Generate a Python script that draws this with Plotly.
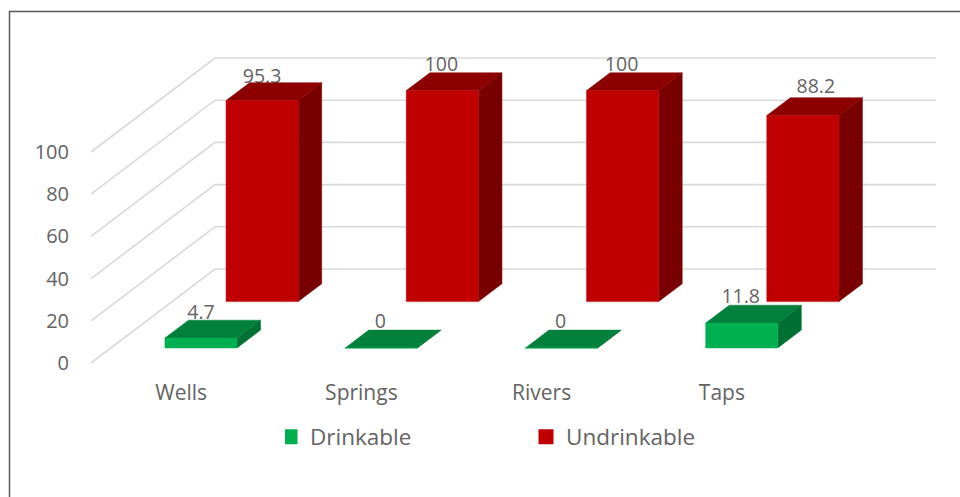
import plotly.graph_objects as go

# ---- data ----
categories = ["Wells", "Springs", "Rivers", "Taps"]
drinkable = [4.7, 0, 0, 11.8]
undrinkable = [95.3, 100, 100, 88.2]
y_ticks = [0, 20, 40, 60, 80, 100]

# ---- chart geometry (oblique 3D projection) ----
W, H = 960, 497
ML, MT, MB = 70, 20, 119
ORIGIN_PX, ORIGIN_PY = 91.0, 363.0    # front-left floor corner
BAND_PX, UNIT_PX = 180.25, 2.11       # pixels per category, per value unit
DEPTH_PX, DEPTH_PY = 124.0, 94.0      # pixel shift of full chart depth
DX, DY = DEPTH_PX / BAND_PX, DEPTH_PY / UNIT_PX
BAR_LO, BAR_HI = 0.30, 0.70           # bar extent inside its band
BAR_DEPTH = 0.19                      # bar depth as share of chart depth
D_GREEN, D_RED = 0.16, 0.653          # depth where each series starts

FONT = "Open Sans"
TXT = "#636363"
GRID = "#d9d9d9"


def proj(c, v, d):
    """Project band position c, value v and depth d onto the 2D axes."""
    return c + DX * d, v + DY * d


def polygons(values, d0, face):
    xs, ys = [], []
    d1 = d0 + BAR_DEPTH
    for i, v in enumerate(values):
        a, b = i + BAR_LO, i + BAR_HI
        if face == "front":
            pts = [(a, 0, d0), (b, 0, d0), (b, v, d0), (a, v, d0)]
        elif face == "top":
            pts = [(a, v, d0), (b, v, d0), (b, v, d1), (a, v, d1)]
        else:
            pts = [(b, 0, d0), (b, 0, d1), (b, v, d1), (b, v, d0)]
        pts.append(pts[0])
        for p in pts:
            x, y = proj(*p)
            xs.append(x)
            ys.append(y)
        xs.append(None)
        ys.append(None)
    return xs, ys


fig = go.Figure()

# walls / floor gridlines
gx, gy = [], []
for v in y_ticks:
    for c, d in [(0, 0), (0, 1), (len(categories), 1)]:
        x, y = proj(c, v, d)
        gx.append(x)
        gy.append(y)
    gx.append(None)
    gy.append(None)
fig.add_trace(go.Scatter(x=gx, y=gy, mode="lines", line=dict(color=GRID, width=1.6),
                         showlegend=False, hoverinfo="skip"))


def labels(values, d0, nudge_x, lift_px):
    xs, ys = [], []
    for i, v in enumerate(values):
        x, y = proj(i + 0.5, v, d0 + BAR_DEPTH)
        xs.append(x - DX * BAR_DEPTH + nudge_x[i] / BAND_PX)
        ys.append(y + lift_px[i] / UNIT_PX)
    return go.Scatter(x=xs, y=ys, mode="text", text=[f"{v:g}" for v in values],
                      textposition="middle center",
                      textfont=dict(family=FONT, size=19.5, color=TXT),
                      showlegend=False, hoverinfo="skip")


# labels sit behind the bars, whose top faces clip them slightly
fig.add_trace(labels(undrinkable, D_RED, [0, -1, -1, 13], [5, 6.5, 6.5, 9.2]))
fig.add_trace(labels(drinkable, D_GREEN, [0, -1, -1, -1], [6.5, 6.5, 6.5, 7]))


def series(values, d0, front, top, side):
    for face, color in [("side", side), ("top", top), ("front", front)]:
        x, y = polygons(values, d0, face)
        fig.add_trace(go.Scatter(x=x, y=y, mode="lines", fill="toself", fillcolor=color,
                                 line=dict(color=color, width=0.5),
                                 showlegend=False, hoverinfo="skip"))


series(undrinkable, D_RED, "#C00000", "#8C0000", "#780000")
series(drinkable, D_GREEN, "#00B050", "#00803A", "#006F32")

# legend entries
for name, color in [("Drinkable", "#00B050"), ("Undrinkable", "#C00000")]:
    fig.add_trace(go.Scatter(x=[None], y=[None], mode="markers", name=name,
                             marker=dict(symbol="square", size=15, color=color)))

plot_w = W - ML
plot_h = H - MT - MB
legend_px, legend_py = 285, 437
fig.update_layout(
    width=W, height=H,
    margin=dict(l=ML, r=0, t=MT, b=MB, autoexpand=False),
    paper_bgcolor="white", plot_bgcolor="white",
    font=dict(family=FONT, color=TXT),
    xaxis=dict(
        range=[(ML - ORIGIN_PX) / BAND_PX, (W - ORIGIN_PX) / BAND_PX],
        tickmode="array",
        tickvals=[i + 0.5 for i in range(len(categories))],
        ticktext=categories,
        tickfont=dict(family=FONT, size=21, color=TXT),
        showgrid=False, zeroline=False, showline=False, ticks="",
        fixedrange=True,
    ),
    yaxis=dict(
        range=[(ORIGIN_PY - (H - MB)) / UNIT_PX, (ORIGIN_PY - MT) / UNIT_PX],
        tickmode="array", tickvals=y_ticks, ticktext=[str(v) for v in y_ticks],
        tickfont=dict(family=FONT, size=20, color=TXT),
        showgrid=False, zeroline=False, showline=False, ticks="",
        fixedrange=True,
    ),
    legend=dict(
        orientation="h",
        x=(legend_px - ML) / plot_w, xanchor="left",
        y=1 - (legend_py - MT) / plot_h, yanchor="middle",
        font=dict(family=FONT, size=22.5, color=TXT),
        entrywidth=226, entrywidthmode="pixels",
        indentation=-15,
        bgcolor="rgba(0,0,0,0)",
    ),
    shapes=[dict(
        type="path", xref="paper", yref="paper",
        path="M {x0} {y0} L {x0} {y1} L {x2} {y1}".format(
            x0=(9.5 - ML) / plot_w, y0=1 - (H - MT) / plot_h,
            y1=1 - (11.5 - MT) / plot_h, x2=1),
        line=dict(color="#595959", width=1.5),
    )],
)

fig.write_html("out.html", post_script="document.body.style.margin='0';",
               config={"displayModeBar": False})
